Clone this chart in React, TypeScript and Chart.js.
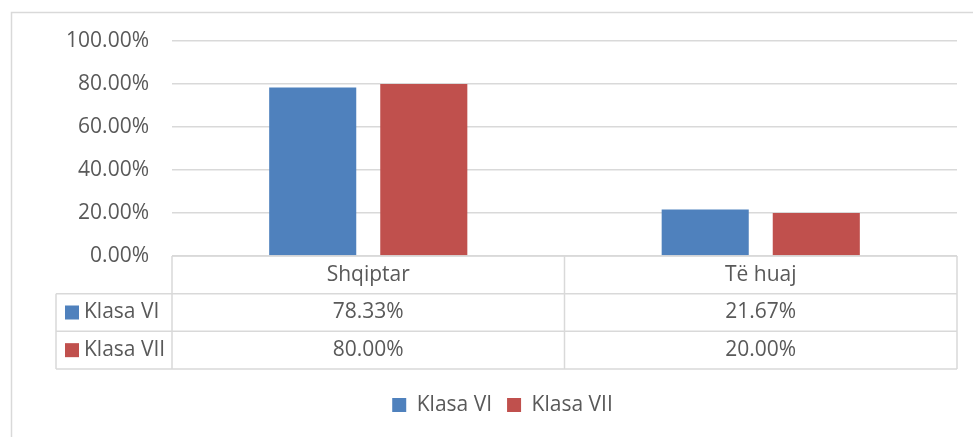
import React, { useEffect, useRef } from "react";
import { Chart, registerables } from "chart.js";

Chart.register(...registerables);

const categories = ["Shqiptar", "Të huaj"];
const seriesNames = ["Klasa VI", "Klasa VII"];
const klasaVI = [0.7833, 0.2167];
const klasaVII = [0.8, 0.2];
const seriesColors = ["#4F81BD", "#C0504D"];
const yMin = 0;
const yMax = 1;
const yStep = 0.2;

const FONT = "'Open Sans', 'Liberation Sans', sans-serif";
const FS = 21;
const TEXT = "#595959";
const LINE = "#d9d9d9";
const ROW_H = 113 / 3;

const fmt = (v: number) => (v * 100).toFixed(2) + "%";

const borderPlugin = {
  id: "outerBorder",
  beforeDraw(chart: any) {
    const { ctx } = chart;
    ctx.save();
    ctx.strokeStyle = LINE;
    ctx.lineWidth = 1.5;
    ctx.strokeRect(11.5, 12.5, 2000, 2000);
    ctx.restore();
  },
};

const tablePlugin = {
  id: "dataTable",
  afterDraw(chart: any) {
    const { ctx, chartArea } = chart;
    const x = chart.scales.x;
    const top = chartArea.bottom;
    const rowH = ROW_H;
    const left = chartArea.left;
    const right = chartArea.right;
    const keyLeft = 56;
    const n = chart.data.labels.length;
    const bounds: number[] = [left];
    for (let i = 0; i < n; i++) {
      bounds.push(i < n - 1 ? (x.getPixelForValue(i) + x.getPixelForValue(i + 1)) / 2 : right);
    }
    ctx.save();
    ctx.strokeStyle = LINE;
    ctx.lineWidth = 1.5;
    const line = (x1: number, y1: number, x2: number, y2: number) => {
      ctx.beginPath();
      ctx.moveTo(x1, y1);
      ctx.lineTo(x2, y2);
      ctx.stroke();
    };
    line(left, top, right, top);
    for (let r = 1; r <= 3; r++) line(keyLeft, top + r * rowH, right, top + r * rowH);
    line(keyLeft, top + rowH, keyLeft, top + 3 * rowH);
    bounds.forEach((bx) => line(bx, top, bx, top + 3 * rowH));

    ctx.font = `${FS}px ${FONT}`;
    ctx.fillStyle = TEXT;
    ctx.textAlign = "center";
    ctx.textBaseline = "middle";
    chart.data.labels.forEach((lab: string, i: number) => {
      ctx.fillText(lab, x.getPixelForValue(i), top + rowH / 2);
    });
    chart.data.datasets.forEach((ds: any, d: number) => {
      const cy = top + rowH * (d + 1) + rowH / 2;
      ctx.textAlign = "center";
      ctx.fillStyle = TEXT;
      ds.data.forEach((v: number, i: number) => {
        ctx.fillText(fmt(v), x.getPixelForValue(i), cy);
      });
      ctx.fillStyle = ds.backgroundColor;
      ctx.fillRect(keyLeft + 9, cy - 7, 14, 14);
      ctx.fillStyle = TEXT;
      ctx.textAlign = "left";
      ctx.fillText(ds.label, keyLeft + 28, cy);
    });
    ctx.restore();
  },
};

export default function App() {
  const ref = useRef<HTMLCanvasElement>(null);
  useEffect(() => {
    if (!ref.current) return;
    const chart = new Chart(ref.current, {
      type: "bar",
      data: {
        labels: categories,
        datasets: [
          { label: seriesNames[0], data: klasaVI, backgroundColor: seriesColors[0], borderWidth: 0 },
          { label: seriesNames[1], data: klasaVII, backgroundColor: seriesColors[1], borderWidth: 0 },
        ],
      },
      options: {
        responsive: false,
        animation: false,
        layout: { padding: { left: 48, right: 16, top: 41, bottom: 11.5 } },
        datasets: { bar: { categoryPercentage: 0.566, barPercentage: 0.784 } },
        plugins: {
          tooltip: { enabled: false },
          legend: {
            position: "bottom",
            labels: {
              boxWidth: 14,
              boxHeight: 14,
              padding: 15,
              color: TEXT,
              font: { family: FONT, size: FS },
            },
          },
        },
        scales: {
          x: {
            grid: { display: false },
            border: { display: false },
            ticks: { display: false },
            afterFit: (s: any) => {
              s.height = 123.5;
            },
          },
          y: {
            min: yMin,
            max: yMax,
            ticks: {
              stepSize: yStep,
              padding: 23,
              color: TEXT,
              font: { family: FONT, size: FS },
              callback: (v: any) => fmt(Number(v)),
            },
            grid: { color: LINE, lineWidth: 1.5, drawTicks: false },
            border: { display: false },
            afterFit: (s: any) => {
              s.width = 124;
            },
          },
        },
      },
      plugins: [borderPlugin, tablePlugin],
    });
    return () => chart.destroy();
  }, []);
  return (
    <div style={{ position: "fixed", left: 0, top: 0, width: 973, height: 437, background: "#fff" }}>
      <canvas ref={ref} width={973} height={437} />
    </div>
  );
}
